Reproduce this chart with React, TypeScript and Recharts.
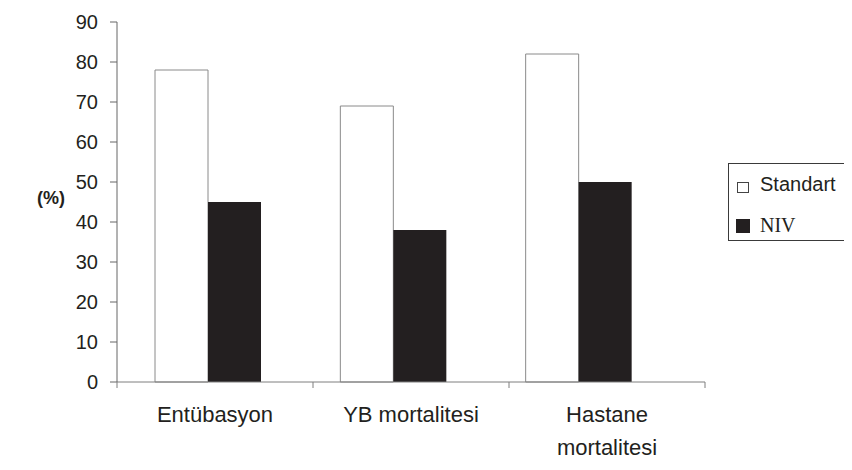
import { BarChart, Bar, XAxis, YAxis, Legend } from "recharts";

const categories = ["Entübasyon", "YB mortalitesi", "Hastane mortalitesi"];
const standart = [78, 69, 82];
const niv = [45, 38, 50];
const yTicks = [0, 10, 20, 30, 40, 50, 60, 70, 80, 90];
// category edges (integers) and centres (halves) on the 0..3 axis
const edgeTicks = [0, 0.5, 1, 1.5, 2, 2.5, 3];

const data = categories.map((name, i) => ({
  name,
  pos: i + 0.5,
  Standart: standart[i],
  NIV: niv[i],
}));

const TEXT = "#231f20";
const SANS = "'Liberation Sans', Arial, sans-serif";
const SERIF = "'Liberation Serif', 'Times New Roman', serif";

const wrap = (s: string) => (s.length > 15 ? s.split(" ") : [s]);

const EdgeTick = ({ x, y, payload }: any) => {
  const v = payload.value;
  if (Number.isInteger(v)) {
    return <line x1={x} x2={x} y1={y - 6} y2={y} stroke="#7f7f7f" />;
  }
  const lines = wrap(categories[Math.floor(v)]);
  return (
    <text x={x} y={y + 34} textAnchor="middle" fill={TEXT} fontFamily={SANS} fontSize={22}>
      {lines.map((l, i) => (
        <tspan key={i} x={x} dy={i === 0 ? 0 : 33}>
          {l}
        </tspan>
      ))}
    </text>
  );
};

const legendRows: Record<string, any> = {
  Standart: { top: 6, font: SANS, mark: { ml: 8, mt: 6, w: 12, h: 11, border: "1px solid #444" }, gap: 11 },
  NIV: { top: 47, font: SERIF, mark: { ml: 7, mt: 2, w: 14, h: 14, border: "none" }, gap: 10 },
};

const LegendBox = ({ payload }: any) => (
  <div
    style={{
      border: "1px solid #3a3a3a",
      width: 124,
      height: 78,
      boxSizing: "border-box",
      position: "relative",
      background: "#fff",
    }}
  >
    {(payload || []).map((p: any) => {
      const r = legendRows[p.value];
      if (!r) return null;
      return (
        <div
          key={p.value}
          style={{
            position: "absolute",
            left: 0,
            top: r.top,
            height: 28,
            display: "flex",
            alignItems: "center",
            color: TEXT,
            fontFamily: r.font,
            fontSize: 20,
          }}
        >
          <span
            style={{
              display: "inline-block",
              marginLeft: r.mark.ml,
              marginTop: r.mark.mt,
              width: r.mark.w,
              height: r.mark.h,
              boxSizing: "border-box",
              background: p.color,
              border: r.mark.border,
            }}
          />
          <span style={{ marginLeft: r.gap }}>{p.value}</span>
        </div>
      );
    })}
  </div>
);

export default function App() {
  return (
    <BarChart
      width={836}
      height={454}
      data={data}
      margin={{ top: 14, right: 139, bottom: 20, left: 19 }}
      barGap={0}
      barSize={53}
    >
      <XAxis
        xAxisId="edge"
        dataKey="pos"
        type="number"
        domain={[0, 3]}
        ticks={edgeTicks}
        allowDataOverflow
        interval={0}
        height={60}
        stroke="#7f7f7f"
        tickLine={false}
        tickSize={6}
        tickMargin={0}
        tick={<EdgeTick />}
      />
      <XAxis xAxisId="bars" dataKey="name" hide height={0} padding={{ left: -2, right: 34 }} />
      <YAxis
        domain={[0, 90]}
        ticks={yTicks}
        interval={0}
        width={90}
        stroke="#666"
        tickSize={7}
        tickMargin={12}
        tick={{ fill: TEXT, fontFamily: SANS, fontSize: 20 }}
        label={{
          value: "(%)",
          position: "insideLeft",
          offset: 10,
          dy: -4,
          fill: TEXT,
          fontFamily: SANS,
          fontSize: 18,
          fontWeight: "bold",
        }}
      />
      <Legend
        layout="horizontal"
        align="center"
        verticalAlign="middle"
        wrapperStyle={{ left: 720, top: 155, width: 124, height: 78 }}
        content={<LegendBox />}
      />
      <Bar
        xAxisId="bars"
        dataKey="Standart"
        name="Standart"
        fill="#ffffff"
        stroke="#8a8a8a"
        strokeWidth={1}
        isAnimationActive={false}
      />
      <Bar
        xAxisId="bars"
        dataKey="NIV"
        name="NIV"
        fill="#231f20"
        isAnimationActive={false}
      />
    </BarChart>
  );
}
